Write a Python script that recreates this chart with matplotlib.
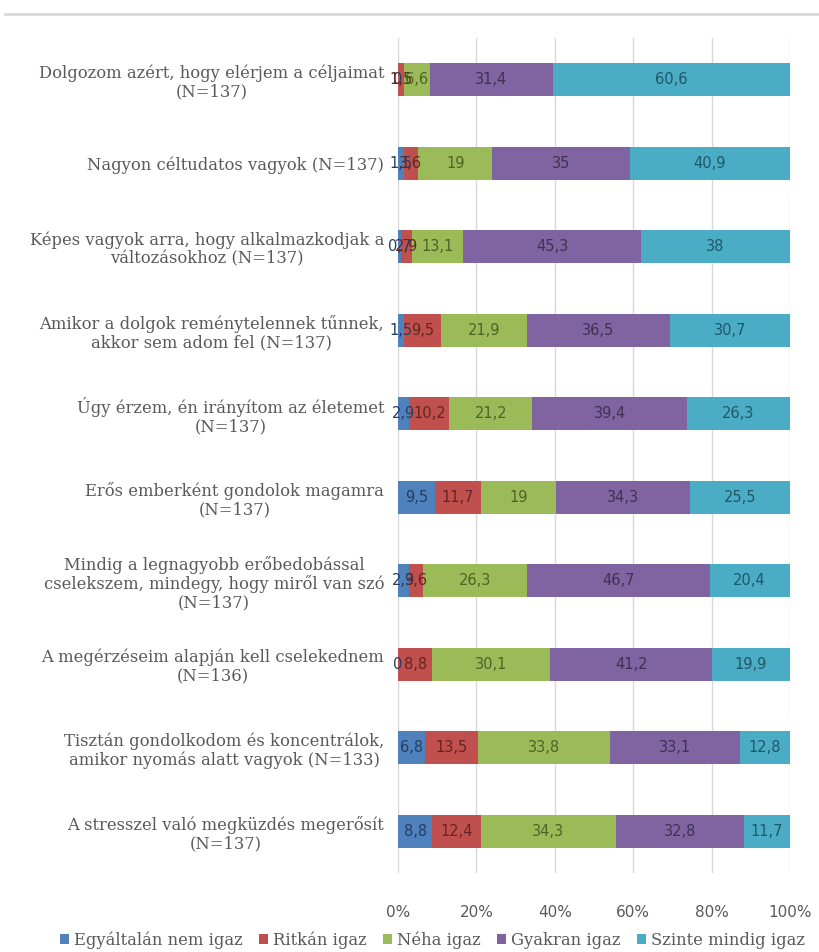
import matplotlib
matplotlib.use("Agg")
import matplotlib.pyplot as plt
from matplotlib.lines import Line2D
import numpy as np

categories = [
    "Dolgozom azért, hogy elérjem a céljaimat\n(N=137)",
    "Nagyon céltudatos vagyok (N=137)",
    "Képes vagyok arra, hogy alkalmazkodjak a\nváltozásokhoz (N=137)",
    "Amikor a dolgok reménytelennek tűnnek,\nakkor sem adom fel (N=137)",
    "Úgy érzem, én irányítom az életemet\n(N=137)",
    "Erős emberként gondolok magamra\n(N=137)",
    "Mindig a legnagyobb erőbedobással\ncselekszem, mindegy, hogy miről van szó\n(N=137)",
    "A megérzéseim alapján kell cselekednem\n(N=136)",
    "Tisztán gondolkodom és koncentrálok,\namikor nyomás alatt vagyok (N=133)",
    "A stresszel való megküzdés megerősít\n(N=137)",
]
series_names = ["Egyáltalán nem igaz", "Ritkán igaz", "Néha igaz", "Gyakran igaz", "Szinte mindig igaz"]
egyaltalan = [0, 1.5, 0.7, 1.5, 2.9, 9.5, 2.9, 0, 6.8, 8.8]
ritkan = [1.5, 3.6, 2.9, 9.5, 10.2, 11.7, 3.6, 8.8, 13.5, 12.4]
neha = [6.6, 19, 13.1, 21.9, 21.2, 19, 26.3, 30.1, 33.8, 34.3]
gyakran = [31.4, 35, 45.3, 36.5, 39.4, 34.3, 46.7, 41.2, 33.1, 32.8]
szinte = [60.6, 40.9, 38, 30.7, 26.3, 25.5, 20.4, 19.9, 12.8, 11.7]
xticklabels = ["0%", "20%", "40%", "60%", "80%", "100%"]

series = [egyaltalan, ritkan, neha, gyakran, szinte]
colors = ["#4F81BD", "#C0504D", "#9BBB59", "#8064A2", "#4BACC6"]
label_colors = ["#243F60", "#632523", "#4F6228", "#3F3151", "#205867"]

fig = plt.figure(figsize=(8.2, 9.52), dpi=100)
ax = fig.add_axes([398/820, 1-873/952, (790-398)/820, (873-38)/952])

y = np.arange(len(categories))
left = np.zeros(len(categories))
for vals, c, lc, name in zip(series, colors, label_colors, series_names):
    vals = np.array(vals, dtype=float)
    ax.barh(y, vals, left=left, height=0.4, color=c, label=name, zorder=3)
    for yi, (l, v) in enumerate(zip(left, vals)):
        txt = ("%g" % v).replace(".", ",")
        ax.text(l + v/2, yi, txt, ha="center", va="center", fontsize=10.5,
                color=lc, family="DejaVu Sans", zorder=4)
    left += vals

ax.set_ylim(len(categories)-0.5, -0.5)
ax.set_xlim(0, 100)
ax.set_xticks([0, 20, 40, 60, 80, 100])
ax.set_xticklabels(xticklabels, fontsize=11, color="#595959", family="DejaVu Sans")
ax.set_yticks(y)
ax.set_yticklabels(categories, fontsize=11.8, color="#595959", family="DejaVu Serif",
                   multialignment="center", linespacing=1.1)
ax.tick_params(axis="both", length=0)
ax.tick_params(axis="x", pad=23)
ax.tick_params(axis="y", pad=10)
ax.grid(axis="x", color="#D9D9D9", linewidth=1, zorder=0)
for s in ax.spines.values():
    s.set_visible(False)

fig.add_artist(Line2D([5/820, 1], [1-14/952, 1-14/952], color="#D9D9D9", linewidth=2))

leg = fig.legend(loc="center", bbox_to_anchor=(0.527, 1-940/952), ncol=5, frameon=False,
                 handlelength=0.55, handleheight=0.55, handletextpad=0.3, columnspacing=1.0,
                 prop={"family": "DejaVu Serif", "size": 11.8})
for t in leg.get_texts():
    t.set_color("#595959")

fig.savefig("out.png", dpi=100, facecolor="white")
